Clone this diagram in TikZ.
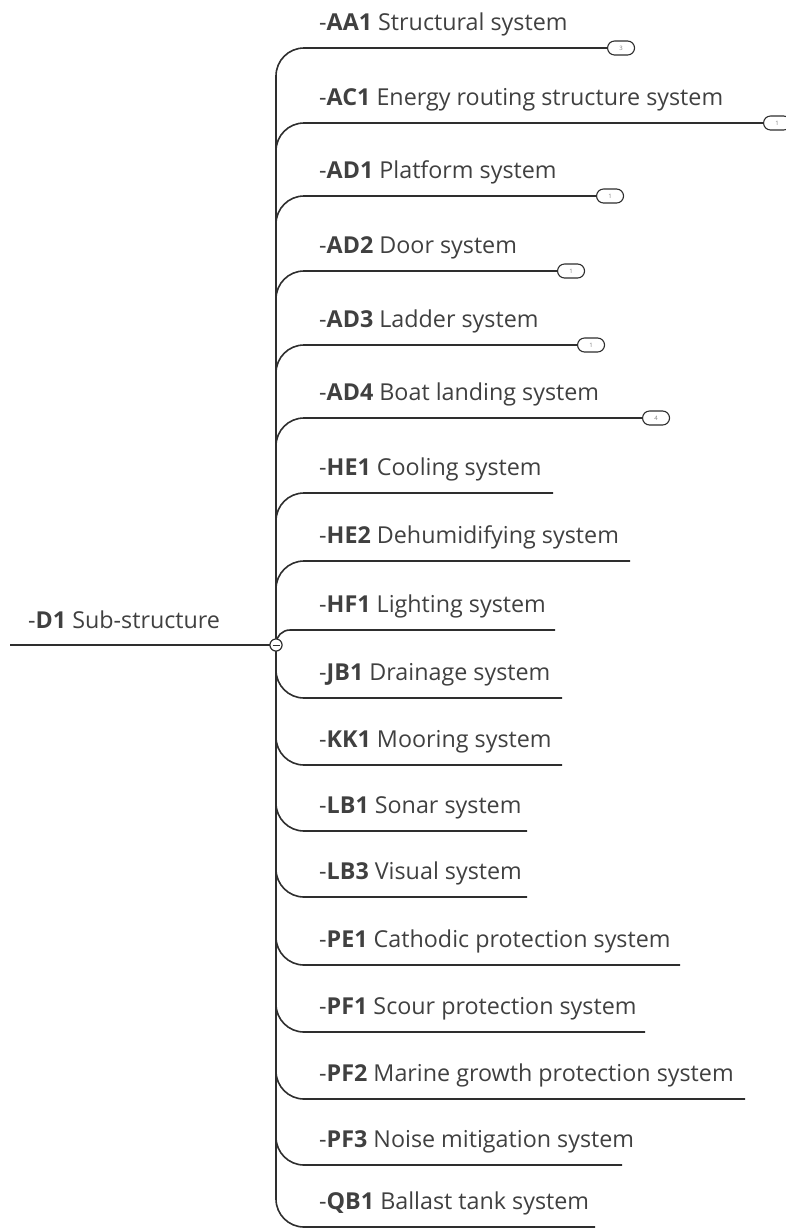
\documentclass[tikz,border=0pt]{standalone}
\usepackage{fontspec}
\setmainfont{Open Sans}
\usepackage{xcolor}
\usetikzlibrary{positioning}

\definecolor{linegray}{HTML}{2E2E2E}
\definecolor{textgray}{HTML}{404040}

\begin{document}
\begin{tikzpicture}[
  x=1pt, y=-1pt,
  hub/.style={circle, draw=linegray, fill=white, line width=1pt,
              minimum size=12pt, inner sep=0pt},
  item/.style={anchor=base west, inner sep=0pt, font=\fontsize{23.3}{27}\selectfont,
               text=textgray},
  badge/.style={rectangle, draw=linegray, fill=white, line width=1.1pt,
                rounded corners=7pt, minimum width=27pt, minimum height=14pt,
                inner sep=0pt, font=\fontsize{6}{7}\selectfont, text=gray},
  branch/.style={draw=linegray, line width=1.6pt, rounded corners=28pt},
]
\useasboundingbox (0,0) rectangle (786,1229);

% Parent (left)
\coordinate (root) at (10,645);
\node[hub] (hub) at (276,645) {};
\node[item] (d1) at (28,628) {-\textbf{D1} Sub-structure};

% Line ends of the children
\coordinate (aa1) at (607,48);
\coordinate (ac1) at (763,123);
\coordinate (ad1) at (596,196);
\coordinate (ad2) at (557,271);
\coordinate (ad3) at (577,345);
\coordinate (ad4) at (642,418);
\coordinate (he1) at (553,493);
\coordinate (he2) at (630,561);
\coordinate (hf1) at (555,630);
\coordinate (jb1) at (562,698);
\coordinate (kk1) at (562,765);
\coordinate (lb1) at (527,831);
\coordinate (lb3) at (527,897);
\coordinate (pe1) at (680,965);
\coordinate (pf1) at (645,1032);
\coordinate (pf2) at (745,1099);
\coordinate (pf3) at (622,1165);
\coordinate (qb1) at (595,1227);

% Children labels
\node[item] (aa1-txt) at (319,30)   {-\textbf{AA1} Structural system};
\node[item] (ac1-txt) at (319,105)  {-\textbf{AC1} Energy routing structure system};
\node[item] (ad1-txt) at (319,178)  {-\textbf{AD1} Platform system};
\node[item] (ad2-txt) at (319,253)  {-\textbf{AD2} Door system};
\node[item] (ad3-txt) at (319,327)  {-\textbf{AD3} Ladder system};
\node[item] (ad4-txt) at (319,400)  {-\textbf{AD4} Boat landing system};
\node[item] (he1-txt) at (319,475)  {-\textbf{HE1} Cooling system};
\node[item] (he2-txt) at (319,543)  {-\textbf{HE2} Dehumidifying system};
\node[item] (hf1-txt) at (319,612)  {-\textbf{HF1} Lighting system};
\node[item] (jb1-txt) at (319,680)  {-\textbf{JB1} Drainage system};
\node[item] (kk1-txt) at (319,747)  {-\textbf{KK1} Mooring system};
\node[item] (lb1-txt) at (319,813)  {-\textbf{LB1} Sonar system};
\node[item] (lb3-txt) at (319,879)  {-\textbf{LB3} Visual system};
\node[item] (pe1-txt) at (319,947)  {-\textbf{PE1} Cathodic protection system};
\node[item] (pf1-txt) at (319,1014) {-\textbf{PF1} Scour protection system};
\node[item] (pf2-txt) at (319,1081) {-\textbf{PF2} Marine growth protection system};
\node[item] (pf3-txt) at (319,1147) {-\textbf{PF3} Noise mitigation system};
\node[item] (qb1-txt) at (319,1209) {-\textbf{QB1} Ballast tank system};

% Branches
\draw[branch] (root) -- (hub);
\foreach \c in {aa1,ac1,ad1,ad2,ad3,ad4,he1,he2,jb1,kk1,lb1,lb3,pe1,pf1,pf2,pf3,qb1}
  \draw[branch] (hub.center) |- (\c);
\draw[branch, rounded corners=14pt] (hub.center) |- (hf1);

% Collapsed sub-branches
\node[badge, right=0pt of aa1] (aa1-badge) {3};
\node[badge, right=0pt of ac1] (ac1-badge) {1};
\node[badge, right=0pt of ad1] (ad1-badge) {1};
\node[badge, right=0pt of ad2] (ad2-badge) {1};
\node[badge, right=0pt of ad3] (ad3-badge) {1};
\node[badge, right=0pt of ad4] (ad4-badge) {4};

% Hub on top of the trunk
\node[hub] at (hub) {};
\draw[linegray, line width=1pt] ([xshift=-3.5pt]hub.center) -- ([xshift=3.5pt]hub.center);

\end{tikzpicture}
\end{document}
